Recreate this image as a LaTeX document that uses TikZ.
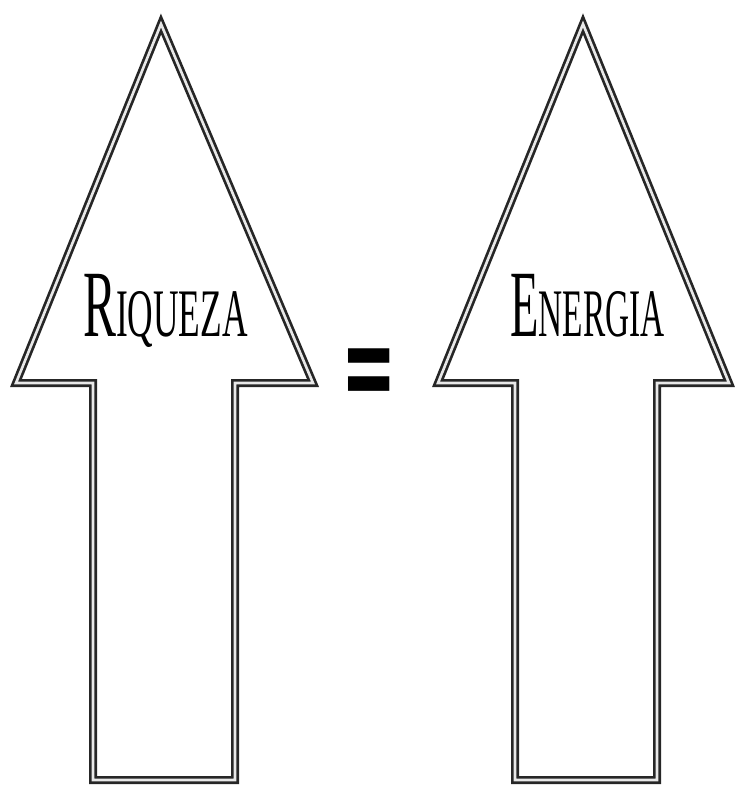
\documentclass[tikz,border=0pt]{standalone}
\usepackage{fontspec}
\usepackage{graphicx}
\setmainfont{Liberation Serif}
\newfontfamily\eqfont{DejaVu Sans}
\begin{document}
\begin{tikzpicture}[x=1pt,y=-1pt,
  arrowline/.style={draw=black!85, line width=2.7pt, double=gray!18, double distance=2.6pt, line join=miter},
  word/.style={anchor=base west, inner sep=0pt, text=black},
  eqsign/.style={inner sep=0pt, text=black}]
\useasboundingbox (0,0) rectangle (736,785);
\begin{scope}
\clip (0,0) rectangle (736,785);
\path[arrowline] (161,24) -- (313,383) -- (235,383) -- (235,780) -- (93,780) -- (93,383) -- (16,383) -- cycle;
\path[arrowline] (583,24) -- (729,383) -- (657,383) -- (657,780) -- (515,780) -- (515,383) -- (438,383) -- cycle;
\end{scope}
\node[word] (riqueza) at (83,336) {\scalebox{0.52}[1]{\fontsize{95}{95}\selectfont R\fontsize{68}{68}\selectfont IQUEZA}};
\node[word] (energia) at (510,336) {\scalebox{0.49}[1]{\fontsize{95}{95}\selectfont E\fontsize{68}{68}\selectfont NERGIA}};
\node[eqsign] (eq) at (369,379) {\scalebox{1.1}[2.1]{\eqfont\bfseries\fontsize{60}{60}\selectfont =}};
\end{tikzpicture}
\end{document}
